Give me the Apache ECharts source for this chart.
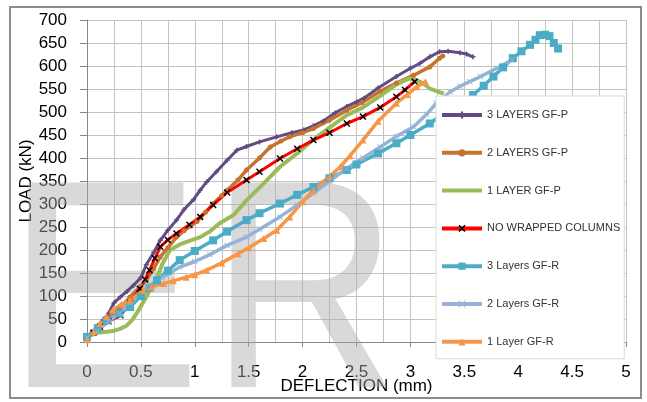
<!DOCTYPE html>
<html><head><meta charset="utf-8">
<script src="https://cdn.jsdelivr.net/npm/echarts@6/dist/echarts.min.js"></script>
<style>html,body{margin:0;padding:0;background:#fff}#c{width:647px;height:402px}</style>
</head><body><div id="c"></div>
<script>
const seriesNames = ['3 LAYERS GF-P','2 LAYERS GF-P','1 LAYER GF-P','NO WRAPPED COLUMNS','3 Layers GF-R','2 Layers GF-R','1 Layer GF-R'];
const xTickValues = [0, 0.5, 1, 1.5, 2, 2.5, 3, 3.5, 4, 4.5, 5];
const yTickValues = [0, 50, 100, 150, 200, 250, 300, 350, 400, 450, 500, 550, 600, 650, 700];

const p3X = [0,0.05,0.1,0.15,0.2,0.25,0.31,0.37,0.43,0.5,0.55,0.62,0.68,0.75,0.83,0.9,0.99,1.05,1.11,1.2,1.3,1.39,1.48,1.6,1.76,1.9,2.01,2.1,2.19,2.3,2.41,2.5,2.57,2.7,2.87,3.0,3.09,3.18,3.27,3.35,3.46,3.52,3.58];
const p3Y = [10,22,35,48,62,85,98,110,123,140,168,195,221,243,265,288,310,330,348,370,395,417,425,435,446,455,461,470,480,498,512,522,530,552,577,595,606,620,631,632,629,626,620];

const p2X = [0,0.05,0.1,0.2,0.3,0.4,0.5,0.55,0.62,0.68,0.75,0.83,0.9,0.96,1.02,1.1,1.17,1.25,1.3,1.4,1.48,1.6,1.7,1.8,1.88,2.0,2.1,2.25,2.41,2.55,2.72,2.87,3.03,3.18,3.27,3.3];
const p2Y = [10,20,30,50,72,98,122,134,160,185,205,228,242,252,262,282,301,318,330,352,374,400,424,437,446,455,464,482,504,520,545,563,580,598,617,622];

const p1X = [0,0.1,0.24,0.3,0.37,0.42,0.46,0.5,0.55,0.6,0.65,0.7,0.77,0.86,0.95,1.05,1.14,1.23,1.36,1.48,1.64,1.79,1.95,2.1,2.25,2.41,2.56,2.72,2.87,2.99,3.05,3.12,3.18,3.25,3.31];
const p1Y = [12,20,24,28,36,48,62,78,98,120,141,170,200,212,220,228,240,258,276,308,345,381,410,440,466,493,510,535,560,573,570,562,551,545,540];

const nwX = [0,0.06,0.12,0.2,0.31,0.4,0.49,0.54,0.58,0.63,0.68,0.75,0.83,0.95,1.05,1.17,1.3,1.48,1.6,1.79,1.95,2.1,2.25,2.41,2.56,2.72,2.87,2.95,3.04];
const nwY = [8,20,33,45,58,85,116,136,156,182,207,222,236,255,272,298,325,352,370,399,420,439,455,475,490,510,533,548,566];

const r3X = [0,0.1,0.18,0.3,0.4,0.5,0.58,0.65,0.75,0.86,1.0,1.17,1.3,1.48,1.6,1.79,1.95,2.1,2.25,2.41,2.5,2.7,2.87,3.0,3.18,3.3,3.45,3.58,3.68,3.77,3.86,3.95,4.03,4.11,4.16,4.2,4.25,4.29,4.33,4.37];
const r3Y = [11,30,47,62,76,100,118,134,155,178,198,221,240,265,280,301,320,337,356,374,386,410,432,450,475,495,518,537,557,577,597,617,632,646,657,667,668,665,650,638];

const r2X = [0,0.1,0.2,0.3,0.4,0.55,0.7,0.86,1.0,1.14,1.3,1.48,1.6,1.79,1.95,2.1,2.25,2.41,2.56,2.72,2.87,3.03,3.15,3.24,3.37,3.46,3.55,3.65,3.8,3.94];
const r2Y = [10,25,45,62,85,118,140,163,175,190,210,228,245,272,298,323,350,377,400,424,447,468,495,519,544,556,566,577,595,613];

const r1X = [0,0.06,0.12,0.18,0.24,0.32,0.4,0.52,0.6,0.71,0.8,0.92,1.0,1.11,1.25,1.4,1.5,1.64,1.76,1.88,2.0,2.1,2.25,2.35,2.44,2.56,2.7,2.87,2.97,3.06,3.14];
const r1Y = [5,22,40,55,69,82,91,112,120,127,133,141,146,156,172,192,205,225,243,272,305,330,360,381,405,439,480,519,538,555,566];

const zip = (xs, ys) => xs.map((x, i) => [x, ys[i]]);
const FONT = '"Liberation Sans", Arial, sans-serif';
const PLUS = 'path://M3.5,0h3v3.5h3.5v3h-3.5v3.5h-3v-3.5h-3.5v-3h3.5z';
const XMARK = 'path://M0,1.5L1.5,0L5,3.5L8.5,0L10,1.5L6.5,5L10,8.5L8.5,10L5,6.5L1.5,10L0,8.5L3.5,5Z';
const THINX = 'path://M0,1L1,0L5,4L9,0L10,1L6,5L10,9L9,10L5,6L1,10L0,9L4,5Z';

function mk(name, xs, ys, color, symbol, size, width, symColor) {
  return {
    name, type: 'line', data: zip(xs, ys),
    symbol, symbolSize: size, showSymbol: symbol !== 'none',
    lineStyle: { color, width },
    itemStyle: { color: symColor || color, borderWidth: 0 },
    emphasis: { disabled: true },
    animation: false
  };
}

const series = [
  mk(seriesNames[0], p3X, p3Y, '#614b83', PLUS, 5, 3),
  mk(seriesNames[1], p2X, p2Y, '#c5732f', 'circle', 5, 3.5),
  mk(seriesNames[2], p1X, p1Y, '#9bbb59', 'none', 0, 4),
  mk(seriesNames[3], nwX, nwY, '#ff0000', XMARK, 7, 3, '#000000'),
  mk(seriesNames[4], r3X, r3Y, '#4bacc6', 'rect', 8, 3.5),
  mk(seriesNames[5], r2X, r2Y, '#95b3d7', THINX, 6, 3.5),
  mk(seriesNames[6], r1X, r1Y, '#f79646', 'triangle', 7, 3.5)
];

const legendData = seriesNames.map((n, i) => {
  const d = { name: n, lineStyle: { width: 4 } };
  if (i === 2) d.itemStyle = { opacity: 0 };
  return d;
});

const chart = echarts.init(document.getElementById('c'), null, { renderer: 'canvas' });
chart.setOption({
  backgroundColor: '#ffffff',
  animation: false,
  graphic: [
    { type: 'text', z: 1, silent: true,
      style: { text: 'E', x: 4, y: 305, font: '297px "Liberation Sans"', fill: 'rgba(170,170,170,0.45)', textVerticalAlign: 'middle' } },
    { type: 'text', z: 1, silent: true, x: 210, y: 305, scaleX: 0.88,
      style: { text: 'R', x: 0, y: 0, font: '297px "Liberation Sans"', fill: 'rgba(170,170,170,0.45)', textVerticalAlign: 'middle' } },
    { type: 'rect', z: 10, silent: true,
      shape: { x: 10, y: 7, width: 631, height: 391 },
      style: { fill: 'none', stroke: '#8c8c8c', lineWidth: 2 } }
  ],
  grid: { left: 87, right: 21, top: 20, bottom: 60, containLabel: false, outerBoundsMode: 'none' },
  legend: {
    orient: 'vertical', left: 436, top: 96,
    padding: [12, 4, 10, 4],
    backgroundColor: '#ffffff', borderColor: '#d9d9d9', borderWidth: 1,
    itemWidth: 40, itemHeight: 9, itemGap: 23.8,
    textStyle: { fontSize: 11, color: '#333', fontFamily: FONT, lineHeight: 14 },
    data: legendData
  },
  xAxis: {
    type: 'value', min: 0, max: 5, interval: 0.5,
    name: 'DEFLECTION (mm)', nameLocation: 'middle', nameGap: 36, nameMoveOverlap: false,
    nameTextStyle: { fontSize: 17, color: '#000', fontFamily: FONT },
    axisLine: { show: true, lineStyle: { color: '#868686', width: 1 } },
    axisTick: { show: true, length: 5, lineStyle: { color: '#868686' } },
    axisLabel: { fontSize: 17, color: '#000', fontFamily: FONT, margin: 22,
      customValues: xTickValues },
    splitLine: { show: true, lineStyle: { color: '#c3c3c3', width: 1 } },
    minorTick: { show: false, splitNumber: 2 },
    minorSplitLine: { show: true, lineStyle: { color: '#c3c3c3', width: 1 } }
  },
  yAxis: {
    type: 'value', min: 0, max: 700, interval: 50,
    name: 'LOAD (kN)', nameLocation: 'middle', nameGap: 52, nameMoveOverlap: false,
    nameTextStyle: { fontSize: 17, color: '#000', fontFamily: FONT },
    axisLine: { show: true, lineStyle: { color: '#868686', width: 1 } },
    axisTick: { show: true, length: 7, lineStyle: { color: '#868686' } },
    axisLabel: { fontSize: 17, color: '#000', fontFamily: FONT, margin: 20 },
    splitLine: { show: true, lineStyle: { color: '#c3c3c3', width: 1 } }
  },
  series
});
</script>
</body></html>
